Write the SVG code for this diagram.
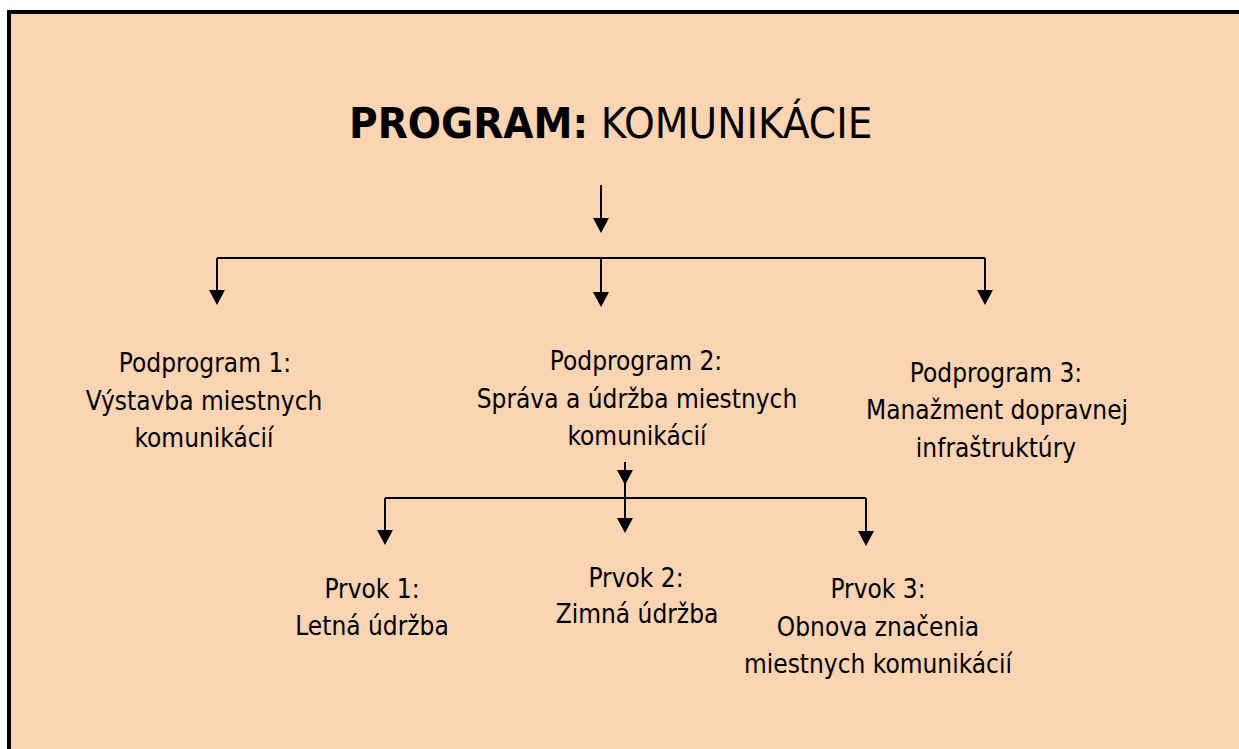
<svg xmlns="http://www.w3.org/2000/svg" width="1239" height="749" viewBox="0 0 1239 749">
  <defs>
    <style>
      .txt { font-family: "DejaVu Sans Condensed", "DejaVu Sans", sans-serif; font-stretch: condensed; font-size: 26px; fill: #000; text-anchor: middle; }
      .title { font-family: "DejaVu Sans Condensed", "DejaVu Sans", sans-serif; font-stretch: condensed; font-size: 43.5px; fill: #000; }
      .conn { fill: none; stroke: #000; stroke-width: 2; marker-end: url(#arrow); }
      .bus { fill: none; stroke: #000; stroke-width: 2; }
    </style>
    <marker id="arrow" markerUnits="userSpaceOnUse" viewBox="0 0 15 16" refX="5" refY="8" markerWidth="15" markerHeight="16" orient="auto">
      <path d="M0,0 L15,8 L0,16 Z" fill="#000"/>
    </marker>
  </defs>

  <!-- page and frame (frame runs off the right and bottom edges) -->
  <rect x="0" y="0" width="1239" height="749" fill="#ffffff"/>
  <rect x="9" y="12" width="1230" height="737" fill="#FBD4B4"/>
  <path d="M9,749 V12 H1239" fill="none" stroke="#000" stroke-width="4"/>

  <!-- title -->
  <g id="program">
    <text class="title" x="349" y="138"><tspan font-weight="bold">PROGRAM:</tspan> KOMUNIKÁCIE</text>
  </g>

  <!-- connectors -->
  <g id="connectors">
    <path class="conn" d="M601,185 V223"/>
    <path class="bus" d="M217,258 H985"/>
    <path class="conn" d="M217,258 V295"/>
    <path class="conn" d="M601,258 V297"/>
    <path class="conn" d="M985,258 V295"/>
    <path class="conn" d="M625,462 V475"/>
    <path class="conn" d="M625,470 V523"/>
    <path class="bus" d="M385,498 H866"/>
    <path class="conn" d="M385,498 V535"/>
    <path class="conn" d="M866,498 V536"/>
  </g>

  <!-- subprograms -->
  <g id="podprogram1">
    <text class="txt" x="205" y="372">Podprogram 1:</text>
    <text class="txt" x="204" y="410">Výstavba miestnych</text>
    <text class="txt" x="204" y="447">komunikácií</text>
  </g>
  <g id="podprogram2">
    <text class="txt" x="636" y="370">Podprogram 2:</text>
    <text class="txt" x="637" y="408">Správa a údržba miestnych</text>
    <text class="txt" x="637" y="445">komunikácií</text>
  </g>
  <g id="podprogram3">
    <text class="txt" x="996" y="382">Podprogram 3:</text>
    <text class="txt" x="997" y="419">Manažment dopravnej</text>
    <text class="txt" x="996" y="457">infraštruktúry</text>
  </g>

  <!-- elements -->
  <g id="prvok1">
    <text class="txt" x="372" y="598">Prvok 1:</text>
    <text class="txt" x="372" y="635">Letná údržba</text>
  </g>
  <g id="prvok2">
    <text class="txt" x="636" y="587">Prvok 2:</text>
    <text class="txt" x="637" y="623">Zimná údržba</text>
  </g>
  <g id="prvok3">
    <text class="txt" x="878" y="598">Prvok 3:</text>
    <text class="txt" x="878" y="636">Obnova značenia</text>
    <text class="txt" x="878" y="673">miestnych komunikácií</text>
  </g>
</svg>
